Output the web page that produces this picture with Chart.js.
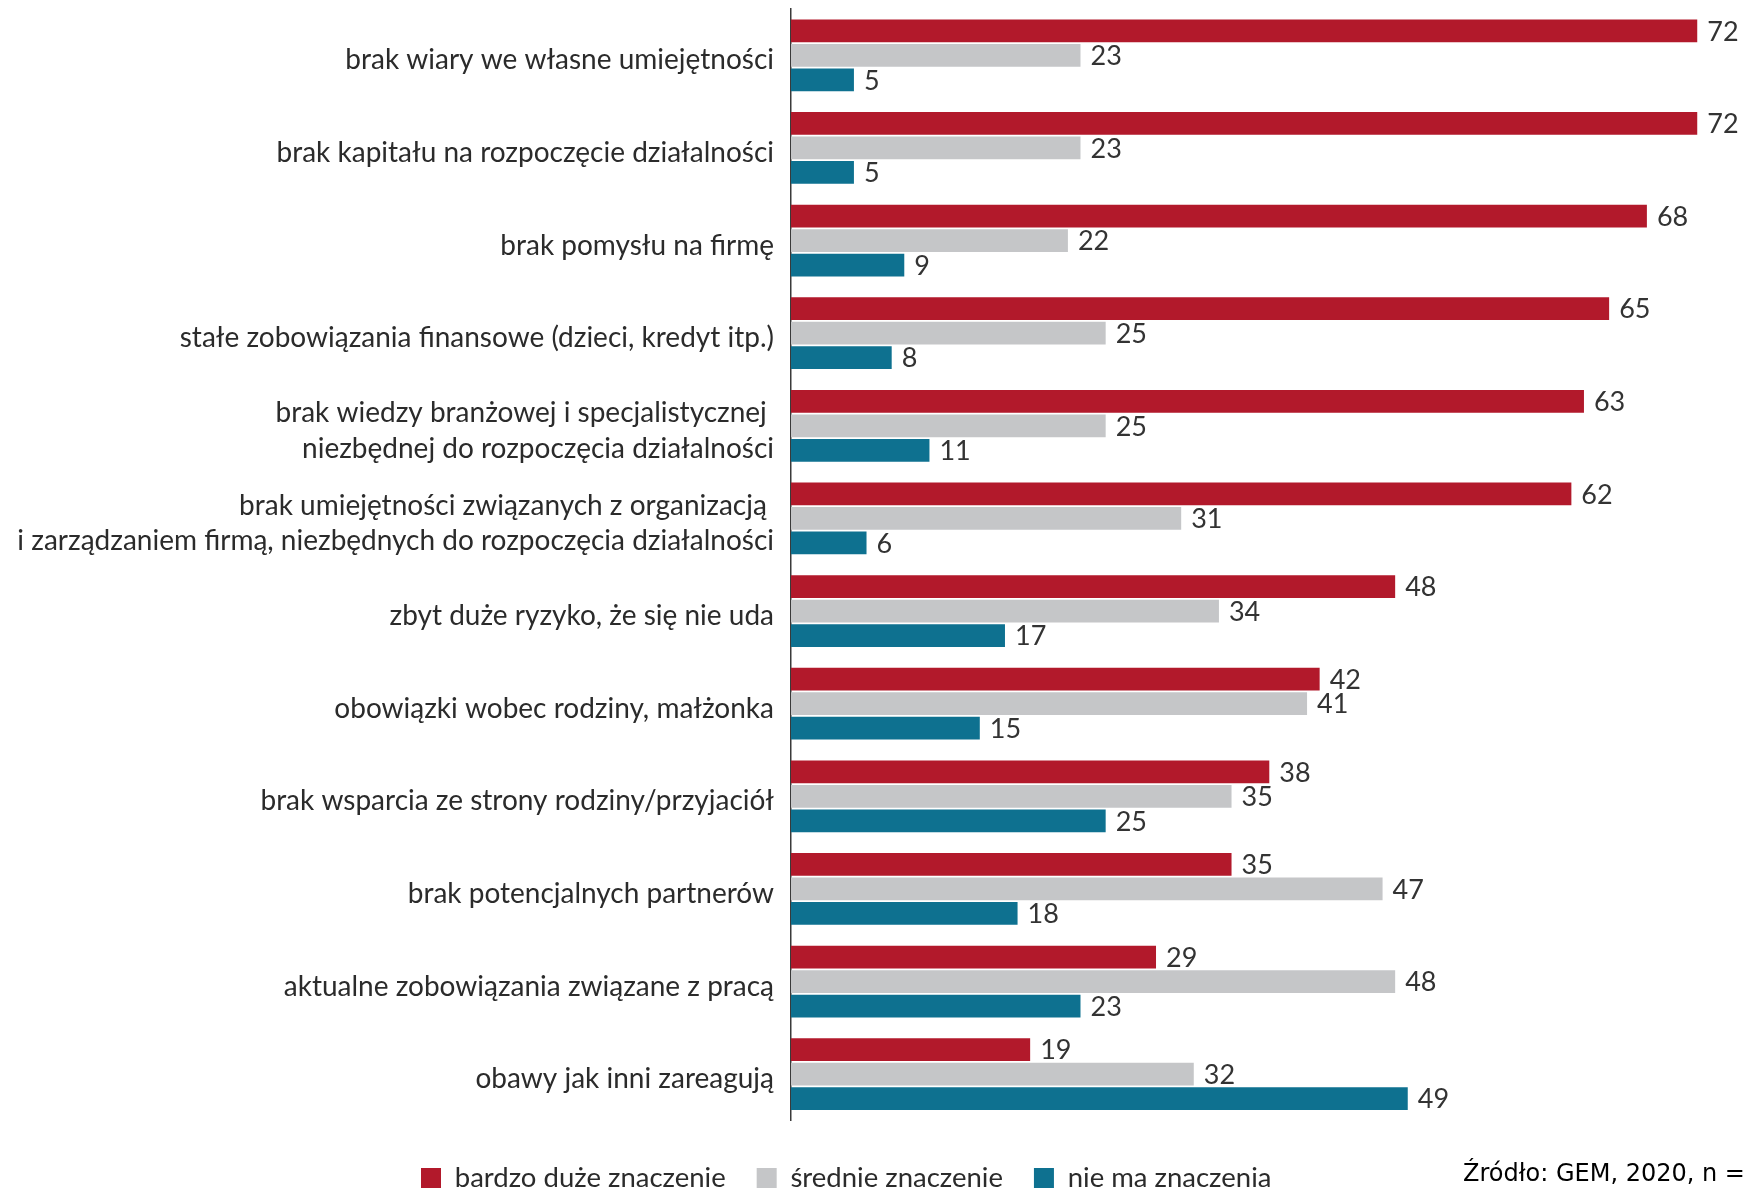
<!DOCTYPE html>
<html>
<head>
<meta charset="utf-8">
<script src="https://cdn.jsdelivr.net/npm/chart.js@4.4.1/dist/chart.umd.min.js"></script>
<style>
html, body { margin: 0; padding: 0; background: #fff; overflow: hidden; }
#wrap { position: relative; width: 1748px; height: 1191px; }
#src { position: absolute; left: 1463px; top: 1159px; font-family: "DejaVu Sans", Verdana, sans-serif; font-size: 24px; color: #000; white-space: nowrap; }
</style>
</head>
<body>
<div id="wrap">
  <canvas id="c" width="1748" height="1191"></canvas>
  <div id="src">Źródło: GEM, 2020, n =</div>
</div>
<script>
// ---- data ----
const categories = [
  ['brak wiary we własne umiejętności'],
  ['brak kapitału na rozpoczęcie działalności'],
  ['brak pomysłu na firmę'],
  ['stałe zobowiązania finansowe (dzieci, kredyt itp.)'],
  ['brak wiedzy branżowej i specjalistycznej ', 'niezbędnej do rozpoczęcia działalności'],
  ['brak umiejętności związanych z organizacją ', 'i zarządzaniem firmą, niezbędnych do rozpoczęcia działalności'],
  ['zbyt duże ryzyko, że się nie uda'],
  ['obowiązki wobec rodziny, małżonka'],
  ['brak wsparcia ze strony rodziny/przyjaciół'],
  ['brak potencjalnych partnerów'],
  ['aktualne zobowiązania związane z pracą'],
  ['obawy jak inni zareagują']
];
const seriesNames = ['bardzo duże znaczenie', 'średnie znaczenie', 'nie ma znaczenia'];
const veryImportant = [72, 72, 68, 65, 63, 62, 48, 42, 38, 35, 29, 19];
const medium        = [23, 23, 22, 25, 25, 31, 34, 41, 35, 47, 48, 32];
const notImportant  = [5, 5, 9, 8, 11, 6, 17, 15, 25, 18, 23, 49];

// ---- styles ----
const colors = ['#B2192B', '#C5C6C8', '#0E7190'];
const labelFont = 'Lato';

const valueLabels = {
  id: 'valueLabels',
  afterDatasetsDraw(chart) {
    const ctx = chart.ctx;
    ctx.save();
    ctx.font = '27px ' + labelFont;
    ctx.fillStyle = '#333333';
    ctx.textAlign = 'left';
    ctx.textBaseline = 'middle';
    chart.data.datasets.forEach((ds, di) => {
      const meta = chart.getDatasetMeta(di);
      meta.data.forEach((bar, i) => {
        ctx.fillText(String(ds.data[i]), bar.x + 10, bar.y + 1);
      });
    });
    ctx.restore();
  }
};

const legendPlacer = {
  id: 'legendPlacer',
  afterLayout(chart) {
    const lg = chart.legend;
    if (!lg || !lg.lineWidths) return;
    const p = lg.options.labels.padding;
    const W = lg.lineWidths[0];
    const curX = (lg.left + p + lg.right - W) / 2;
    const dx = 421 - curX;
    lg.left += dx; lg.right += dx;
    const fs = lg.options.labels.font.size;
    const itemH = Math.max(fs, lg.options.labels.boxHeight);
    const newTop = 1178 - p - itemH / 2;
    const h = lg.bottom - lg.top;
    lg.top = newTop; lg.bottom = newTop + h;
  }
};

new Chart(document.getElementById('c'), {
  type: 'bar',
  data: {
    labels: categories,
    datasets: [
      { label: seriesNames[0], data: veryImportant, backgroundColor: colors[0] },
      { label: seriesNames[1], data: medium, backgroundColor: colors[1] },
      { label: seriesNames[2], data: notImportant, backgroundColor: colors[2] }
    ]
  },
  options: {
    indexAxis: 'y',
    responsive: false,
    animation: false,
    devicePixelRatio: 1,
    layout: { padding: { top: 9, right: 13, bottom: 2, left: 0 } },
    datasets: { bar: { categoryPercentage: 0.794, barPercentage: 0.925, borderWidth: 0 } },
    scales: {
      x: { display: false, min: 0, max: 75 },
      y: {
        grid: { display: false, drawTicks: false },
        border: { display: true, color: '#3a3a3a', width: 1.5 },
        ticks: {
          padding: 17,
          labelOffset: 5,
          autoSkip: false,
          color: '#2b2b2b',
          font: { family: labelFont, size: 28, lineHeight: 1.27 }
        },
        afterFit(scale) { scale.width = 791; scale.paddingTop = 0; scale.paddingBottom = 0; }
      }
    },
    plugins: {
      tooltip: { enabled: false },
      legend: {
        position: 'bottom',
        labels: {
          boxWidth: 20,
          boxHeight: 20,
          padding: 31,
          color: '#2b2b2b',
          font: { family: labelFont, size: 27.5 }
        }
      }
    }
  },
  plugins: [valueLabels, legendPlacer]
});
</script>
</body>
</html>
